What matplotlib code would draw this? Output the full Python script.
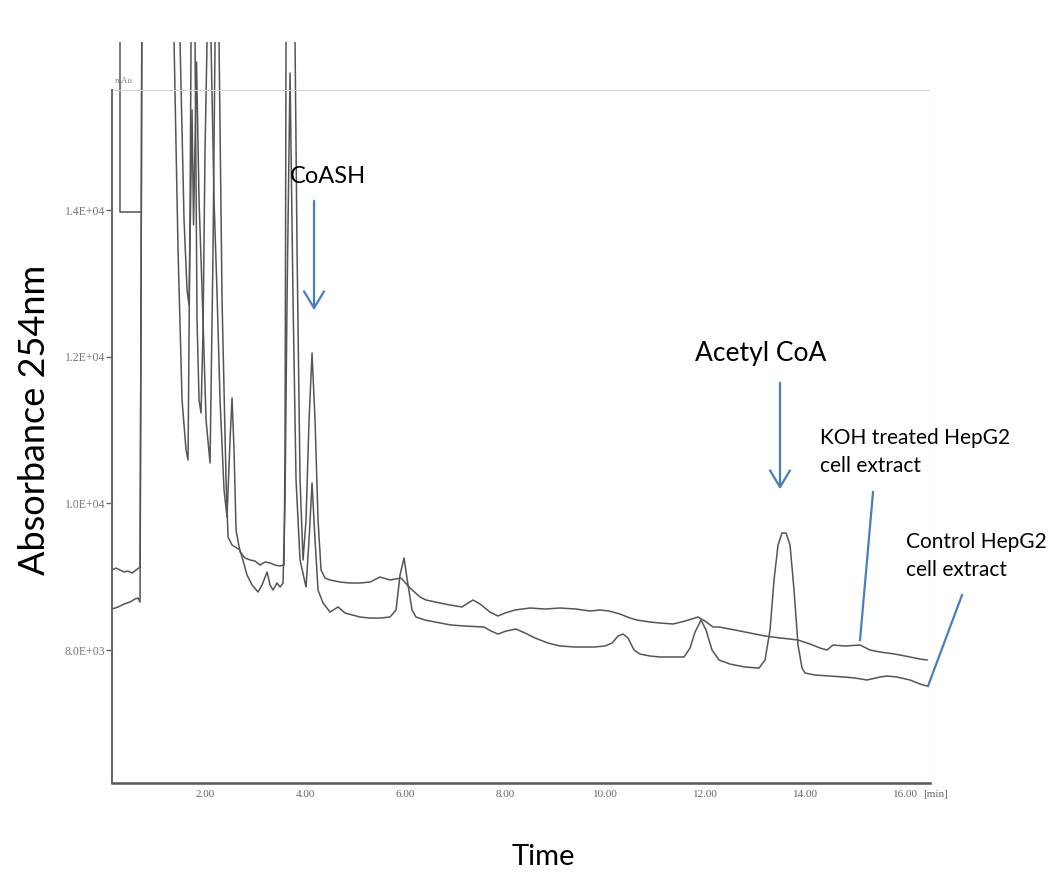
import matplotlib
matplotlib.use("Agg")
import matplotlib.pyplot as plt

# HPLC trace, KOH treated HepG2 cell extract (time in min, absorbance in mAu)
koh_t = [0.14, 0.22, 0.30, 0.38, 0.46, 0.54, 0.62, 0.70, 0.72, 0.74,
         1.34, 1.38, 1.46, 1.54, 1.62, 1.66, 1.70, 1.72, 1.74, 1.78,
         1.80, 1.84, 1.88, 1.92, 1.96, 2.00, 2.04, 2.08, 2.12, 2.18,
         2.24, 2.30, 2.38, 2.44, 2.50, 2.54, 2.58, 2.62, 2.70, 2.80,
         2.90, 3.00, 3.10, 3.20, 3.30, 3.40, 3.50, 3.58, 3.60, 3.62,
         3.66, 3.76, 3.80, 3.84, 3.90, 3.96, 4.02, 4.08, 4.14, 4.20,
         4.26, 4.32, 4.40, 4.50, 4.70, 4.90, 5.10, 5.30, 5.50, 5.70,
         5.92, 6.10, 6.30, 6.42, 6.70, 6.90, 7.14, 7.26, 7.36, 7.50,
         7.70, 7.86, 8.00, 8.20, 8.50, 8.80, 9.10, 9.42, 9.70, 9.90,
         10.08, 10.30, 10.50, 10.64, 10.90, 11.10, 11.36, 11.60, 11.86, 12.00,
         12.16, 12.28, 12.60, 12.90, 13.20, 13.36, 13.50, 13.70, 13.86, 14.10,
         14.30, 14.44, 14.56, 14.80, 15.10, 15.30, 15.50, 15.80, 16.10, 16.30,
         16.44]
koh_v = [9091, 9118, 9091, 9064, 9077, 9050, 9091, 9132, 12774, 17500,
         17500, 16293, 13456, 11410, 10728, 10592, 14000, 16293, 17500, 17500,
         16293, 12500, 11410, 11233, 12365, 14820, 16293, 17500, 16293, 14138,
         12869, 11410, 10182, 9814, 10864, 11437, 10728, 9637, 9337, 9255,
         9228, 9214, 9159, 9200, 9187, 9159, 9146, 9159, 10728, 16293,
         17500, 17500, 16293, 13456, 10319, 9228, 9773, 11137, 12051, 11137,
         9773, 9091, 8982, 8955, 8927, 8914, 8914, 8927, 8996, 8955,
         8982, 8846, 8723, 8682, 8641, 8614, 8587, 8641, 8682, 8627,
         8518, 8464, 8505, 8546, 8573, 8559, 8573, 8559, 8532, 8546,
         8532, 8491, 8436, 8409, 8382, 8368, 8355, 8395, 8450, 8395,
         8314, 8314, 8273, 8232, 8191, 8177, 8164, 8150, 8136, 8082,
         8027, 8000, 8068, 8055, 8068, 8000, 7973, 7945, 7905, 7877,
         7864]

# HPLC trace, control HepG2 cell extract
ctrl_t = [0.14, 0.26, 0.38, 0.50, 0.60, 0.66, 0.70, 0.72, 0.74, 1.42,
          1.50, 1.58, 1.64, 1.68, 1.74, 1.77, 1.83, 1.88, 1.96, 2.02,
          2.10, 2.16, 2.20, 2.24, 2.28, 2.34, 2.42, 2.46, 2.54, 2.70,
          2.84, 2.94, 3.06, 3.14, 3.24, 3.30, 3.36, 3.44, 3.50, 3.56,
          3.60, 3.64, 3.70, 3.76, 3.82, 3.90, 4.02, 4.08, 4.14, 4.20,
          4.26, 4.36, 4.50, 4.66, 4.80, 5.10, 5.30, 5.50, 5.70, 5.82,
          5.90, 5.98, 6.06, 6.14, 6.22, 6.40, 6.60, 6.92, 7.20, 7.58,
          7.72, 7.86, 8.02, 8.22, 8.40, 8.60, 8.86, 9.10, 9.40, 9.78,
          10.00, 10.14, 10.26, 10.36, 10.46, 10.58, 10.70, 10.90, 11.10, 11.34,
          11.58, 11.70, 11.80, 11.92, 12.02, 12.14, 12.28, 12.50, 12.80, 13.08,
          13.20, 13.30, 13.38, 13.46, 13.54, 13.62, 13.70, 13.78, 13.86, 13.94,
          14.00, 14.20, 14.50, 14.78, 15.00, 15.24, 15.50, 15.64, 15.84, 16.10,
          16.30, 16.44]
ctrl_v = [8559, 8587, 8627, 8655, 8696, 8709, 8655, 12774, 17500, 17500,
          16293, 13865, 12910, 12706, 15366, 13800, 16020, 14138, 12501, 11137,
          10551, 13456, 16293, 17500, 16293, 12774, 10319, 9541, 9432, 9364,
          9023, 8887, 8791, 8887, 9064, 8887, 8818, 8914, 8859, 8914,
          10046, 12774, 15870, 12774, 10319, 9228, 8859, 9500, 10278, 9500,
          8818, 8641, 8518, 8587, 8505, 8450, 8436, 8436, 8450, 8546,
          9023, 9255, 8887, 8546, 8450, 8409, 8382, 8341, 8327, 8314,
          8259, 8218, 8259, 8286, 8232, 8164, 8095, 8055, 8041, 8041,
          8055, 8095, 8191, 8218, 8164, 8000, 7945, 7918, 7905, 7905,
          7905, 8027, 8245, 8409, 8273, 8000, 7864, 7809, 7768, 7754,
          7864, 8273, 8955, 9432, 9596, 9596, 9432, 8818, 8068, 7754,
          7686, 7659, 7645, 7632, 7618, 7591, 7632, 7645, 7632, 7591,
          7536, 7509]

# offset marker drawn by the integrator at the start of the run
marker_t = [0.30, 0.30, 0.72]
marker_v = [17500, 13974, 13974]

y_ticks = [8000, 10000, 12000, 14000]
y_labels = ["8.0E+03", "1.0E+04", "1.2E+04", "1.4E+04"]
x_ticks = [2, 4, 6, 8, 10, 12, 14, 16]
x_labels = ["2.00", "4.00", "6.00", "8.00", "10.00", "12.00", "14.00", "16.00"]

trace_col = "#555555"
blue = "#4a7ebb"
sans = ["Lato", "DejaVu Sans"]
serif = ["Liberation Serif", "DejaVu Serif"]

fig = plt.figure(figsize=(10.56, 8.8), dpi=100)
ax = fig.add_axes([0.1061, 0.1102, 0.7746, 0.8421])
ax.set_xlim(0.14, 16.5)
ax.set_ylim(6186, 16293)

ax.plot(koh_t, koh_v, color=trace_col, lw=1.1)
ax.plot(ctrl_t, ctrl_v, color=trace_col, lw=1.1)
ax.plot(marker_t, marker_v, color=trace_col, lw=1.1)

# chromatogram frame
frame_top = 15640
for s in ["top", "right"]:
    ax.spines[s].set_visible(False)
ax.spines["left"].set_bounds(6186, frame_top)
ax.spines["left"].set_color("#666666")
ax.spines["left"].set_linewidth(1.4)
ax.spines["bottom"].set_color("#555555")
ax.spines["bottom"].set_linewidth(1.8)
ax.hlines(frame_top, 0.14, 16.5, color="#d4d4d4", lw=0.8)
ax.vlines(16.5, 6186, frame_top, color="#e4e4e4", lw=0.8)

ax.set_yticks(y_ticks)
ax.set_yticklabels(y_labels, family=serif, fontsize=8.5, color="#777777")
ax.set_xticks(x_ticks)
ax.set_xticklabels(x_labels, family=serif, fontsize=8, color="#666666")
ax.tick_params(axis="y", length=4, width=1, color="#666666", pad=1)
ax.tick_params(axis="x", length=0, pad=5)
ax.text(16.36, 6036, "[min]", family=serif, fontsize=8, color="#666666",
        ha="left", va="center")
ax.text(0.2, frame_top + 60, "mAu", family=serif, fontsize=6.5, color="#888888",
        ha="left", va="bottom")

# peak annotations
head = "->,head_length=0.6,head_width=0.36"
ax.annotate("", xy=(4.18, 12597), xytext=(4.18, 14165),
            arrowprops=dict(arrowstyle=head, color=blue, lw=1.6, mutation_scale=20))
ax.text(4.46, 14465, "CoASH", family=sans, fontsize=17, ha="center", va="center")
ax.annotate("", xy=(13.5, 10155), xytext=(13.5, 11683),
            arrowprops=dict(arrowstyle=head, color=blue, lw=1.6, mutation_scale=20))
ax.text(13.12, 12051, "Acetyl CoA", family=sans, fontsize=19, ha="center", va="center")

ax.text(14.30, 10701, "KOH treated HepG2\ncell extract", family=sans, fontsize=15,
        ha="left", va="center", linespacing=1.45)
ax.plot([15.36, 15.10], [10155, 8136], color=blue, lw=1.6)
ax.text(16.02, 9282, "Control HepG2\ncell extract", family=sans, fontsize=15,
        ha="left", va="center", linespacing=1.45, clip_on=False)
ax.plot([17.14, 16.46], [8750, 7509], color=blue, lw=1.6, clip_on=False)

fig.text(0.033, 0.523, "Absorbance 254nm", family=sans, fontsize=26,
         rotation=90, ha="center", va="center")
fig.text(0.515, 0.026, "Time", family=sans, fontsize=21, ha="center", va="center")

fig.savefig("out.png", dpi=100)
